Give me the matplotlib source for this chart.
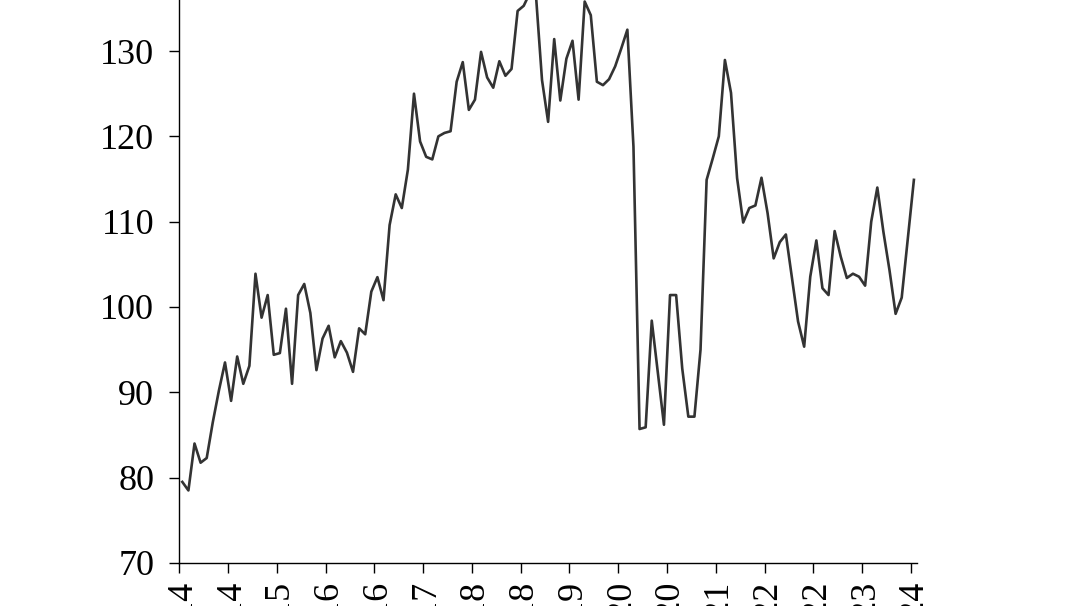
import numpy as np
import matplotlib
matplotlib.use("Agg")
import matplotlib.pyplot as plt
import matplotlib.transforms as mtransforms

# monthly index values, Jan 2014 .. Jan 2024
values = [
    79.5, 78.5, 84.0, 81.75, 82.3, 86.5, 90.2, 93.5, 89.0, 94.2,
    91.0, 93.1, 103.9, 98.75, 101.4, 94.4, 94.6, 99.8, 91.0, 101.4,
    102.7, 99.3, 92.6, 96.3, 97.8, 94.1, 96.0, 94.65, 92.4, 97.5,
    96.8, 101.8, 103.5, 100.8, 109.6, 113.2, 111.6, 116.1, 125.0, 119.4,
    117.6, 117.3, 120.0, 120.4, 120.6, 126.4, 128.7, 123.1, 124.3, 129.9,
    126.9, 125.7, 128.8, 127.1, 127.9, 134.7, 135.3, 136.8, 136.6, 126.6,
    121.7, 131.4, 124.2, 129.1, 131.2, 124.3, 135.8, 134.2, 126.4, 126.0,
    126.7, 128.2, 130.3, 132.5, 118.8, 85.7, 85.9, 98.4, 92.3, 86.2,
    101.4, 101.4, 92.8, 87.15, 87.15, 95.0, 114.9, 117.4, 120.0, 128.95,
    125.1, 115.1, 109.9, 111.6, 111.9, 115.15, 111.0, 105.7, 107.6, 108.5,
    103.4, 98.3, 95.35, 103.55, 107.8, 102.2, 101.4, 108.9, 105.9, 103.4,
    103.9, 103.55, 102.5, 110.0, 114.0, 108.8, 104.3, 99.2, 101.1, 108.0,
    114.9,
]
tick_labels = ["Jan 2014", "Sep 2014", "May 2015", "Jan 2016", "Sep 2016",
               "May 2017", "Jan 2018", "Sep 2018", "May 2019", "Jan 2020",
               "Sep 2020", "May 2021", "Jan 2022", "Sep 2022", "May 2023",
               "Jan 2024"]
y_ticks = [70, 80, 90, 100, 110, 120, 130, 140]

plt.rcParams['font.family'] = ['Liberation Serif', 'DejaVu Serif']

fig = plt.figure(figsize=(10.78, 6.06), dpi=100)
ax = fig.add_axes([0.1663, 0.0710, 0.6843, 0.9856])

x = np.arange(len(values))
ax.plot(x, values, color='#333333', lw=1.9)

ax.set_xlim(-0.5, len(values) - 0.5)
ax.set_ylim(70, 140)
ax.set_xticks(np.arange(0, len(values), 8) - 0.5)
ax.set_xticklabels(tick_labels, rotation=90)
ax.set_yticks(y_ticks)

ax.spines['top'].set_visible(False)
ax.spines['right'].set_visible(False)
for s in ('left', 'bottom'):
    ax.spines[s].set_linewidth(1.0)
ax.tick_params(axis='both', direction='out', length=7, width=1.0, labelsize=26)
ax.tick_params(axis='y', pad=11)
ax.tick_params(axis='x', pad=7)

# nudge the rotated date labels a little to the right, like the original
shift = mtransforms.ScaledTranslation(5 / 100, 0, fig.dpi_scale_trans)
for lbl in ax.get_xticklabels():
    lbl.set_transform(lbl.get_transform() + shift)

fig.savefig("out.png", dpi=100)
